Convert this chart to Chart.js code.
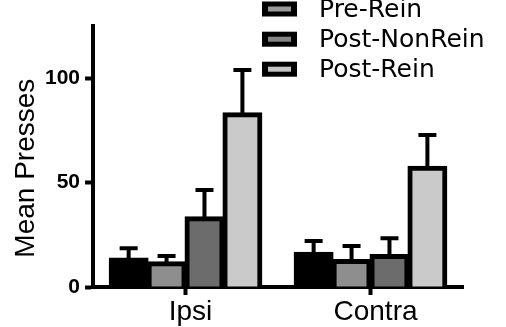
<!DOCTYPE html>
<html><head><meta charset="utf-8">
<script src="https://cdn.jsdelivr.net/npm/chart.js@4"></script>
<style>html,body{margin:0;padding:0;background:#fff;overflow:hidden}#wrap{width:506px;height:327px;position:relative}</style>
</head><body><div id="wrap"><canvas id="c"></canvas></div>
<script>
const categories = ['Ipsi', 'Contra'];
const seriesNames = ['Baseline', 'Pre-Rein', 'Post-NonRein', 'Post-Rein'];
const baselineMeans = [13.7, 16.4];
const preReinMeans = [11.8, 12.9];
const postNonReinMeans = [33.4, 15.3];
const postReinMeans = [83.2, 57.6];
const baselineErr = [4.8, 5.6];
const preReinErr = [3.0, 6.7];
const postNonReinErr = [13.0, 8.0];
const postReinErr = [20.7, 15.2];
const yTicks = [0, 50, 100];
const yMax = 125;
const yTitle = 'Mean Presses';

const fills = ['#000000', '#8e8e8e', '#6c6c6c', '#cacaca'];
const legendInner = ['#000000', '#9a9a9a', '#858585', '#c4c4c4'];
const FONT = "'Liberation Sans', Arial, Helvetica, sans-serif";
const LEGEND_FONT = "'DejaVu Sans', Verdana, sans-serif";
Chart.defaults.font.family = FONT;
Chart.defaults.color = '#000';

const means = [baselineMeans, preReinMeans, postNonReinMeans, postReinMeans];
const errs = [baselineErr, preReinErr, postNonReinErr, postReinErr];

const errorBarPlugin = {
  id: 'errorBars',
  afterDatasetsDraw(chart) {
    const ctx = chart.ctx, ys = chart.scales.y;
    ctx.save();
    ctx.strokeStyle = '#000';
    ctx.lineWidth = 4;
    chart.data.datasets.forEach((ds, di) => {
      const meta = chart.getDatasetMeta(di);
      meta.data.forEach((el, i) => {
        const top = ys.getPixelForValue(ds.data[i] + ds.errors[i]);
        ctx.beginPath();
        ctx.moveTo(el.x, el.y);
        ctx.lineTo(el.x, top);
        ctx.moveTo(el.x - 9, top);
        ctx.lineTo(el.x + 9, top);
        ctx.stroke();
      });
    });
    ctx.restore();
  }
};

const legendPlugin = {
  id: 'customLegend',
  afterDraw(chart) {
    const ctx = chart.ctx;
    const baselines = [16.5, 46.7, 76.7];
    for (let k = 1; k < chart.data.datasets.length; k++) {
      const ds = chart.data.datasets[k];
      const b = baselines[k - 1];
      const top = b - 15;
      ctx.save();
      ctx.fillStyle = '#000';
      ctx.fillRect(262, top, 35, 15);
      ctx.fillStyle = legendInner[k];
      ctx.fillRect(268, top + 5, 23, 5);
      ctx.fillStyle = '#000';
      ctx.font = '25px ' + LEGEND_FONT;
      ctx.textBaseline = 'alphabetic';
      ctx.textAlign = 'left';
      ctx.fillText(ds.label, 319, b);
      ctx.restore();
    }
  }
};

const chart = new Chart(document.getElementById('c'), {
  type: 'bar',
  data: {
    labels: categories,
    datasets: seriesNames.map((name, i) => ({
      label: name, data: means[i], errors: errs[i],
      backgroundColor: fills[i], borderColor: '#000', borderWidth: 5, borderSkipped: 'start',
      inflateAmount: 1, barPercentage: 1.0, categoryPercentage: 0.82
    }))
  },
  options: {
    responsive: true, maintainAspectRatio: false, animation: false,
    layout: { padding: { top: 26, right: 43, left: 0, bottom: 0 } },
    plugins: { legend: { display: false }, tooltip: { enabled: false } },
    scales: {
      x: {
        offset: true,
        grid: { offset: false, drawOnChartArea: false, tickLength: 8, tickWidth: 4, tickColor: '#000' },
        border: { color: '#000', width: 4 },
        ticks: { color: '#000', font: { size: 28 }, padding: 0, labelOffset: 5 },
        afterFit: s => { s.height = 40; }
      },
      y: {
        min: 0, max: yMax,
        afterBuildTicks: s => { s.ticks = yTicks.map(v => ({ value: v })); },
        grid: { drawOnChartArea: false, tickLength: 8, tickWidth: 4, tickColor: '#000' },
        border: { color: '#000', width: 4 },
        ticks: { color: '#000', font: { size: 21, weight: 'bold' }, padding: 5 },
        title: { display: true, text: yTitle + '   ', color: '#000', font: { size: 28, lineHeight: 1.0 }, padding: { top: 12, bottom: 0 } }
      }
    }
  },
  plugins: [errorBarPlugin, legendPlugin]
});

if (document.fonts && document.fonts.load) {
  Promise.all([
    document.fonts.load("bold 21px 'Liberation Sans'"),
    document.fonts.load("28px 'Liberation Sans'"),
    document.fonts.load("25px 'DejaVu Sans'")
  ]).then(() => chart.update()).catch(() => {});
  document.fonts.ready.then(() => chart.update());
}
</script></body></html>
